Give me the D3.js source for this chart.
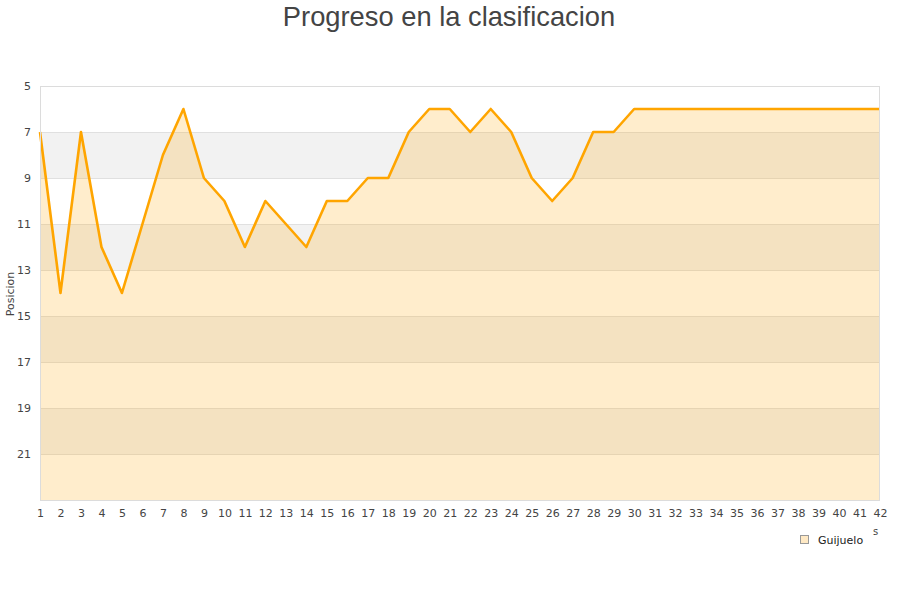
<!DOCTYPE html>
<html><head><meta charset="utf-8">
<script src="https://cdn.jsdelivr.net/npm/d3@7"></script>
<style>body{margin:0;background:#fff;font-family:"DejaVu Sans",sans-serif;}</style>
</head><body><svg id="c" width="900" height="600"></svg>
<script>
const jornadas = d3.range(1, 43);
const posiciones = [7,14,7,12,14,11,8,6,9,10,12,10,11,12,10,10,9,9,7,6,6,7,6,7,9,10,9,7,7,6,6,6,6,6,6,6,6,6,6,6,6,6];
const yTicks = [5,7,9,11,13,15,17,19,21];
const bandStarts = [7,11,15,19];
const equipo = "Guijuelo";
const titulo = "Progreso en la clasificacion";

const svg = d3.select("#c");
const m = {l:40, r:880, t:86, b:500};
const x = d3.scaleLinear().domain([1,42]).range([m.l, m.r]);
const y = d3.scaleLinear().domain([5,23]).range([m.t, m.b]);

svg.append("text").attr("x",449).attr("y",26).attr("text-anchor","middle")
  .attr("font-size",27.3).attr("font-family","'Liberation Sans', Arial, sans-serif").attr("fill","#444").text(titulo);

// bands
svg.selectAll("rect.band").data(bandStarts).enter().append("rect")
  .attr("x",m.l).attr("width",m.r-m.l)
  .attr("y",d=>y(d)).attr("height",d=>y(d+2)-y(d)).attr("fill","#f2f2f2");
// grid lines
svg.selectAll("line.g").data(d3.range(7,23,2)).enter().append("line")
  .attr("x1",m.l).attr("x2",m.r).attr("y1",d=>y(d)).attr("y2",d=>y(d))
  .attr("stroke","#e0e0e0").attr("stroke-width",1).attr("shape-rendering","crispEdges");

// area
const data = jornadas.map((j,i)=>({j, p:posiciones[i]}));
svg.append("path").datum(data)
  .attr("d", d3.area().x(d=>x(d.j)).y0(y(23)).y1(d=>y(d.p)))
  .attr("fill","rgba(255,165,0,0.2)");
svg.append("path").datum(data)
  .attr("d", d3.line().x(d=>x(d.j)).y(d=>y(d.p)))
  .attr("fill","none").attr("stroke","#ffa500").attr("stroke-width",2.6).attr("stroke-linejoin","round");

// frame
svg.append("rect").attr("x",m.l+0.5).attr("y",m.t+0.5).attr("width",m.r-m.l-1).attr("height",m.b-m.t)
  .attr("fill","none").attr("stroke","#dcdcdc").attr("shape-rendering","crispEdges");

// axes
const yAxis = svg.append("g").attr("transform",`translate(${m.l},0)`)
  .call(d3.axisLeft(y).tickValues(yTicks).tickSize(0).tickPadding(9));
yAxis.select(".domain").remove();
yAxis.selectAll("text").attr("font-size",11).attr("fill","#444").attr("font-family","DejaVu Sans");

const xAxis = svg.append("g").attr("transform",`translate(0,${m.b})`)
  .call(d3.axisBottom(x).tickValues(jornadas).tickFormat(d3.format("d")).tickSize(0).tickPadding(9));
xAxis.select(".domain").remove();
xAxis.selectAll("text").attr("font-size",11).attr("fill","#444").attr("font-family","DejaVu Sans");

svg.append("text").attr("transform","translate(14,294) rotate(-90)").attr("text-anchor","middle")
  .attr("font-size",11).attr("fill","#444").text("Posicion");
svg.append("text").attr("x",873).attr("y",535).attr("font-size",10).attr("fill","#444").text("s");

// legend
svg.append("rect").attr("x",800.5).attr("y",535.5).attr("width",8).attr("height",8)
  .attr("fill","#ffe9c4").attr("stroke","#999");
svg.append("text").attr("x",818).attr("y",543.5).attr("font-size",11).attr("fill","#222").text(equipo);
</script></body></html>
